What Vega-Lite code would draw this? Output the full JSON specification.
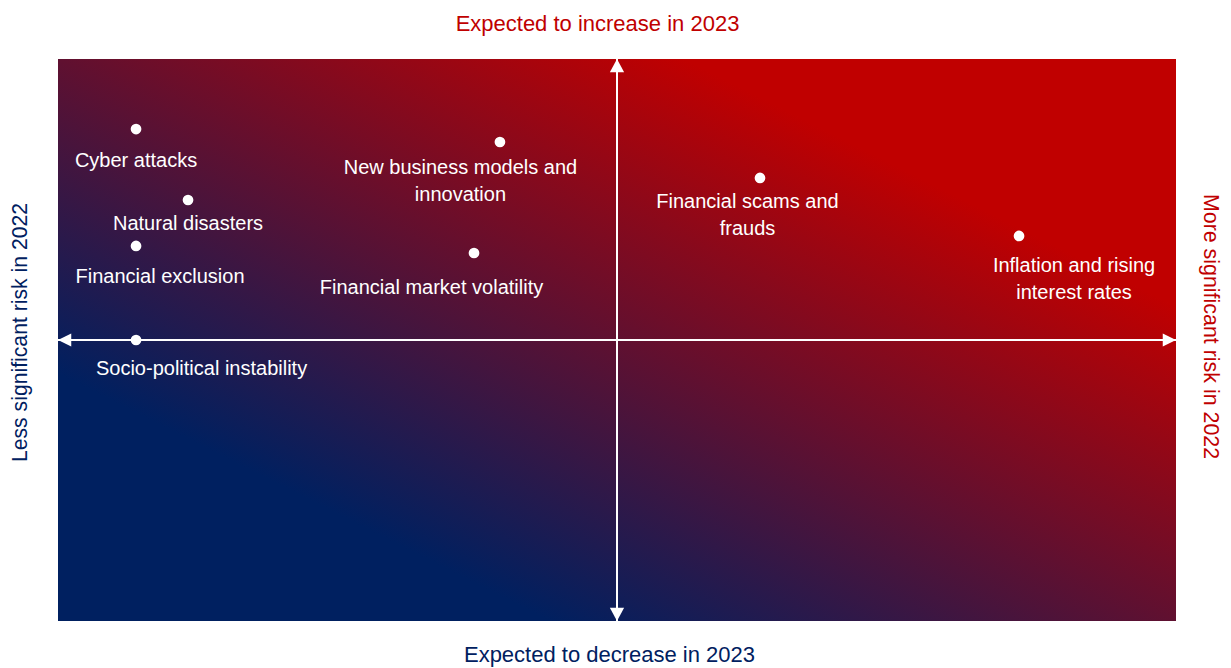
{
  "$schema": "https://vega.github.io/schema/vega-lite/v6.json",
  "width": 1118,
  "height": 562,
  "autosize": {"type": "none"},
  "padding": {"left": 58, "top": 59, "right": 55, "bottom": 47},
  "background": "#ffffff",
  "config": {
    "font": "Liberation Sans",
    "view": {"stroke": null},
    "axis": {"labels": false, "ticks": false, "domain": false, "grid": false, "titleFont": "Liberation Sans", "titleFontSize": 22, "titleFontWeight": "normal"}
  },
  "datasets": {
    "risks": [
      {"risk": "Cyber attacks", "change2022": 6.98, "change2023": 87.54},
      {"risk": "Natural disasters", "change2022": 11.63, "change2023": 74.91},
      {"risk": "Financial exclusion", "change2022": 6.98, "change2023": 66.73},
      {"risk": "Socio-political instability", "change2022": 6.98, "change2023": 50.0},
      {"risk": "New business models and\ninnovation", "change2022": 39.53, "change2023": 85.23},
      {"risk": "Financial market volatility", "change2022": 37.21, "change2023": 65.48},
      {"risk": "Financial scams and\nfrauds", "change2022": 62.79, "change2023": 78.83},
      {"risk": "Inflation and rising\ninterest rates", "change2022": 85.96, "change2023": 68.51}
    ],
    "frame": [{"xmin": 0, "xmax": 100, "ymin": 0, "ymax": 100, "mid": 50}]
  },
  "resolve": {"axis": {"x": "independent", "y": "independent"}},
  "layer": [
    {
      "data": {"name": "frame"},
      "mark": {
        "type": "rect",
        "fill": {"gradient": "linear", "x1": 0, "y1": 1, "x2": 1, "y2": 0,
          "stops": [{"offset": 0.22, "color": "#002060"}, {"offset": 0.78, "color": "#C00000"}]}
      },
      "encoding": {
        "x": {"field": "xmin", "type": "quantitative", "scale": {"domain": [0, 100], "nice": false, "zero": false},
          "axis": {"orient": "bottom", "title": "Expected to decrease in 2023", "titleColor": "#002060", "titlePadding": 23, "titleX": 551, "titleAlign": "center"}},
        "x2": {"field": "xmax"},
        "y": {"field": "ymin", "type": "quantitative", "scale": {"domain": [0, 100], "nice": false, "zero": false},
          "axis": {"orient": "left", "title": "Less significant risk in 2022", "titleColor": "#002060", "titlePadding": 28, "titleFontSize": 21.2, "titleY": 273, "titleAlign": "center"}},
        "y2": {"field": "ymax"}
      }
    },
    {
      "data": {"name": "frame"},
      "mark": {"type": "rule", "color": "#ffffff", "strokeWidth": 2},
      "encoding": {
        "x": {"field": "mid", "type": "quantitative", "axis": null},
        "y": {"field": "ymin", "type": "quantitative", "axis": null},
        "y2": {"field": "ymax"}
      }
    },
    {
      "data": {"name": "frame"},
      "mark": {"type": "rule", "color": "#ffffff", "strokeWidth": 2},
      "encoding": {
        "y": {"field": "mid", "type": "quantitative", "axis": null},
        "x": {"field": "xmin", "type": "quantitative", "axis": null},
        "x2": {"field": "xmax"}
      }
    },
    {
      "data": {"name": "frame"},
      "mark": {"type": "point", "filled": true, "fill": "#ffffff", "opacity": 1, "strokeWidth": 0, "size": 700, "shape": "M0,0L0.54,1L-0.54,1Z"},
      "encoding": {
        "x": {"field": "mid", "type": "quantitative", "axis": null},
        "y": {"field": "ymax", "type": "quantitative", "axis": null}
      }
    },
    {
      "data": {"name": "frame"},
      "mark": {"type": "point", "filled": true, "fill": "#ffffff", "opacity": 1, "strokeWidth": 0, "size": 700, "shape": "M0,0L0.54,-1L-0.54,-1Z"},
      "encoding": {
        "x": {"field": "mid", "type": "quantitative", "axis": null},
        "y": {"field": "ymin", "type": "quantitative", "axis": null}
      }
    },
    {
      "data": {"name": "frame"},
      "mark": {"type": "point", "filled": true, "fill": "#ffffff", "opacity": 1, "strokeWidth": 0, "size": 700, "shape": "M0,0L1,0.5L1,-0.5Z"},
      "encoding": {
        "x": {"field": "xmin", "type": "quantitative", "axis": null},
        "y": {"field": "mid", "type": "quantitative", "axis": null}
      }
    },
    {
      "data": {"name": "frame"},
      "mark": {"type": "point", "filled": true, "fill": "#ffffff", "opacity": 1, "strokeWidth": 0, "size": 700, "shape": "M0,0L-1,0.5L-1,-0.5Z"},
      "encoding": {
        "x": {"field": "xmax", "type": "quantitative", "axis": null},
        "y": {"field": "mid", "type": "quantitative", "axis": null}
      }
    },
    {
      "data": {"name": "risks"},
      "mark": {"type": "point", "filled": true, "fill": "#ffffff", "opacity": 1, "strokeWidth": 0, "size": 115, "shape": "circle"},
      "encoding": {
        "x": {"field": "change2022", "type": "quantitative",
          "axis": {"orient": "top", "title": "Expected to increase in 2023", "titleColor": "#C00000", "titlePadding": 24, "titleX": 539, "titleAlign": "center"}},
        "y": {"field": "change2023", "type": "quantitative",
          "axis": {"orient": "right", "title": "More significant risk in 2022", "titleColor": "#C00000", "titlePadding": 23, "titleAngle": 90, "titleFontSize": 21.4, "titleY": 267, "titleAlign": "center"}}
      }
    },
    {
      "data": {"name": "risks"},
      "transform": [{"filter": "datum.risk === 'Cyber attacks'"}],
      "mark": {"type": "text", "color": "#ffffff", "fontSize": 20, "baseline": "top", "align": "center", "dy": 22},
      "encoding": {
        "x": {"field": "change2022", "type": "quantitative", "axis": null},
        "y": {"field": "change2023", "type": "quantitative", "axis": null},
        "text": {"field": "risk"}
      }
    },
    {
      "data": {"name": "risks"},
      "transform": [{"filter": "datum.risk === 'Natural disasters'"}],
      "mark": {"type": "text", "color": "#ffffff", "fontSize": 20, "baseline": "top", "align": "center", "dy": 13.5},
      "encoding": {
        "x": {"field": "change2022", "type": "quantitative", "axis": null},
        "y": {"field": "change2023", "type": "quantitative", "axis": null},
        "text": {"field": "risk"}
      }
    },
    {
      "data": {"name": "risks"},
      "transform": [{"filter": "datum.risk === 'Financial exclusion'"}],
      "mark": {"type": "text", "color": "#ffffff", "fontSize": 20, "baseline": "top", "align": "center", "dx": 24, "dy": 21.5},
      "encoding": {
        "x": {"field": "change2022", "type": "quantitative", "axis": null},
        "y": {"field": "change2023", "type": "quantitative", "axis": null},
        "text": {"field": "risk"}
      }
    },
    {
      "data": {"name": "risks"},
      "transform": [{"filter": "datum.risk === 'Socio-political instability'"}],
      "mark": {"type": "text", "color": "#ffffff", "fontSize": 20, "baseline": "top", "align": "center", "dx": 65.5, "dy": 19},
      "encoding": {
        "x": {"field": "change2022", "type": "quantitative", "axis": null},
        "y": {"field": "change2023", "type": "quantitative", "axis": null},
        "text": {"field": "risk"}
      }
    },
    {
      "data": {"name": "risks"},
      "transform": [{"filter": "datum.risk === 'New business models and\\ninnovation'"}],
      "mark": {"type": "text", "color": "#ffffff", "fontSize": 20, "baseline": "top", "align": "center", "lineBreak": "\n", "lineHeight": 27, "dx": -39.5, "dy": 16},
      "encoding": {
        "x": {"field": "change2022", "type": "quantitative", "axis": null},
        "y": {"field": "change2023", "type": "quantitative", "axis": null},
        "text": {"field": "risk"}
      }
    },
    {
      "data": {"name": "risks"},
      "transform": [{"filter": "datum.risk === 'Financial market volatility'"}],
      "mark": {"type": "text", "color": "#ffffff", "fontSize": 20, "baseline": "top", "align": "center", "dx": -42.5, "dy": 25},
      "encoding": {
        "x": {"field": "change2022", "type": "quantitative", "axis": null},
        "y": {"field": "change2023", "type": "quantitative", "axis": null},
        "text": {"field": "risk"}
      }
    },
    {
      "data": {"name": "risks"},
      "transform": [{"filter": "datum.risk === 'Financial scams and\\nfrauds'"}],
      "mark": {"type": "text", "color": "#ffffff", "fontSize": 20, "baseline": "top", "align": "center", "lineBreak": "\n", "lineHeight": 27, "dx": -12.5, "dy": 14},
      "encoding": {
        "x": {"field": "change2022", "type": "quantitative", "axis": null},
        "y": {"field": "change2023", "type": "quantitative", "axis": null},
        "text": {"field": "risk"}
      }
    },
    {
      "data": {"name": "risks"},
      "transform": [{"filter": "datum.risk === 'Inflation and rising\\ninterest rates'"}],
      "mark": {"type": "text", "color": "#ffffff", "fontSize": 20, "baseline": "top", "align": "center", "lineBreak": "\n", "lineHeight": 27, "dx": 55, "dy": 20},
      "encoding": {
        "x": {"field": "change2022", "type": "quantitative", "axis": null},
        "y": {"field": "change2023", "type": "quantitative", "axis": null},
        "text": {"field": "risk"}
      }
    }
  ]
}
